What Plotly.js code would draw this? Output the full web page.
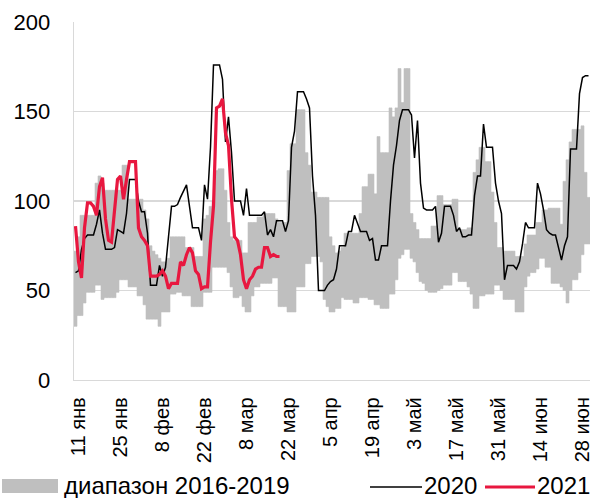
<!DOCTYPE html>
<html>
<head>
<meta charset="utf-8">
<script src="https://cdn.plot.ly/plotly-3.0.1.min.js"></script>
<style>html,body{margin:0;padding:0;background:#fff;}#chart{width:599px;height:498px;}</style>
</head>
<body>
<div id="chart"></div>
<script>
// Daily data starting 10 Jan (index 0) through 30 Jun (index 171)
const startYear = 2021, startMonth = 0, startDay = 10;

const rangeMin = [30,36,36,43,49,49,49,53,53,45,46,46,46,46,49,56,56,56,52,52,52,47,47,42,34,34,34,34,30,38,38,38,48,48,49,49,47,47,47,41,41,41,41,49,49,49,63,63,63,63,63,60,52,46,46,47,41,38,38,47,52,52,54,54,54,54,57,57,41,41,41,38,38,38,52,52,52,65,65,69,69,69,66,45,41,38,38,40,40,46,45,45,45,43,43,46,46,46,45,45,42,42,40,40,40,48,48,56,68,70,73,73,68,66,60,55,54,50,49,49,49,50,51,53,53,53,60,60,55,55,55,52,48,40,40,47,47,48,48,48,53,53,50,45,45,45,45,38,38,38,52,58,60,60,62,68,68,63,63,54,54,54,52,50,43,50,56,56,60,70,76,76];

const rangeMax = [72,80,92,92,92,92,92,110,114,110,106,106,106,106,106,106,120,120,101,101,101,101,101,95,90,75,72,70,68,66,66,68,80,80,80,80,80,74,74,74,69,69,69,90,92,97,100,117,118,118,106,88,80,78,78,78,71,71,88,88,88,91,91,93,93,93,93,90,88,88,88,117,132,132,151,151,151,127,120,105,105,102,102,102,102,80,75,71,72,74,82,82,82,82,82,93,108,108,115,115,104,136,127,127,127,152,147,152,174,155,174,174,93,88,84,79,79,79,79,86,86,103,103,98,98,98,101,101,84,84,84,85,85,116,123,130,130,122,122,105,88,74,74,72,72,72,72,69,69,69,76,81,81,81,88,88,95,95,96,96,96,96,87,111,123,133,140,140,140,142,116,102];

const values2020 = [60,61,73,79,81,81,81,87,95,82,73,73,73,74,84,83,82,93,112,112,112,100,94,94,82,53,53,53,64,58,63,80,97,97,98,102,106,109,97,85,85,85,78,109,101,130,176,176,176,168,133,147,127,100,100,100,92,107,92,92,92,92,92,94,81,84,80,89,89,89,83,89,130,139,161,161,161,157,152,114,92,50,50,50,53,55,56,62,75,75,75,83,83,92,88,83,83,83,78,79,67,67,75,75,75,100,120,131,145,151,151,151,148,124,145,110,96,95,95,95,97,77,82,97,97,97,92,83,85,80,80,81,81,103,114,114,143,130,130,130,110,100,93,56,64,64,64,62,66,76,88,85,85,85,110,104,95,84,82,81,81,74,67,75,80,129,129,129,160,169,170,170];

const values2021 = [86,66,57,85,99,99,97,92,108,113,90,78,77,95,112,114,101,112,122,122,122,85,80,78,75,58,58,58,59,61,58,51,54,54,54,66,64,70,74,71,61,59,51,52,52,77,97,152,153,157,138,131,101,80,78,70,56,51,56,58,62,63,63,74,74,69,70,69,69];

const tickDates = ['2021-01-11','2021-01-25','2021-02-08','2021-02-22','2021-03-08','2021-03-22','2021-04-05','2021-04-19','2021-05-03','2021-05-17','2021-05-31','2021-06-14','2021-06-28'];
const tickLabels = ['11 янв','25 янв','8 фев','22 фев','8 мар','22 мар','5 апр','19 апр','3 май','17 май','31 май','14 июн','28 июн'];
const yTicks = [0,50,100,150,200];

const legendRange = 'диапазон 2016-2019';
const legend2020 = '2020';
const legend2021 = '2021';

function dayStr(i){
  const d = new Date(Date.UTC(startYear, startMonth, startDay + i));
  return d.toISOString().slice(0,10);
}
const datesAll = rangeMin.map((_, i) => dayStr(i));
const dates2021 = values2021.map((_, i) => dayStr(i));

const GRAY = '#BFBFBF';
const RED = '#E8173F';
const FONT = 'Liberation Sans, Arial, sans-serif';

const traces = [
  {
    type: 'bar',
    x: datesAll,
    base: rangeMin,
    y: rangeMax.map((v, i) => v - rangeMin[i]),
    marker: {color: GRAY, line: {color: GRAY, width: 0.6}},
    hoverinfo: 'skip',
    showlegend: false
  },
  {
    type: 'scatter', mode: 'lines',
    x: datesAll, y: values2020,
    line: {color: '#000000', width: 1.5},
    showlegend: false
  },
  {
    type: 'scatter', mode: 'lines',
    x: dates2021, y: values2021,
    line: {color: RED, width: 3.2},
    showlegend: false
  }
];

// paper coordinate helpers for the legend (plot area: x 74..590, y 22..380)
const L = 74, R = 590, T = 22, B = 380;
const px = v => (v - L) / (R - L);
const py = v => (B - v) / (B - T);
const legY = 485;

const layout = {
  width: 599, height: 498,
  margin: {l: L, r: 599 - R, t: T, b: 498 - B},
  paper_bgcolor: '#fff', plot_bgcolor: '#fff',
  bargap: 0,
  showlegend: false,
  font: {family: FONT, color: '#000', size: 20},
  xaxis: {
    type: 'date',
    range: ['2021-01-09 12:00', '2021-06-30 12:00'],
    tickmode: 'array', tickvals: tickDates, ticktext: tickLabels,
    tickangle: -90,
    ticks: 'outside', ticklen: 8, tickcolor: 'rgba(0,0,0,0)',
    tickfont: {family: FONT, size: 20, color: '#000'},
    showgrid: false,
    showline: true, linecolor: '#D9D9D9', linewidth: 1.3,
    zeroline: false
  },
  yaxis: {
    range: [0, 200],
    tickmode: 'array', tickvals: yTicks,
    ticks: 'outside', ticklen: 18, tickcolor: 'rgba(0,0,0,0)',
    tickfont: {family: FONT, size: 22, color: '#000'},
    showgrid: true, gridcolor: '#D9D9D9', gridwidth: 1.3,
    showline: true, linecolor: '#D9D9D9', linewidth: 1.3,
    zeroline: false
  },
  shapes: [
    {type: 'rect', xref: 'paper', yref: 'paper', x0: px(2), x1: px(58), y0: py(legY + 8), y1: py(legY - 6), fillcolor: GRAY, line: {width: 0}},
    {type: 'line', xref: 'paper', yref: 'paper', x0: px(370), x1: px(422), y0: py(legY + 2), y1: py(legY + 2), line: {color: '#000', width: 1.5}},
    {type: 'line', xref: 'paper', yref: 'paper', x0: px(485), x1: px(535), y0: py(legY + 2), y1: py(legY + 2), line: {color: RED, width: 3.2}}
  ],
  annotations: [
    {xref: 'paper', yref: 'paper', x: px(63), y: py(legY), xanchor: 'left', yanchor: 'middle', text: legendRange, showarrow: false, borderpad: 0, font: {family: FONT, size: 24, color: '#000'}},
    {xref: 'paper', yref: 'paper', x: px(423), y: py(legY), xanchor: 'left', yanchor: 'middle', text: legend2020, showarrow: false, borderpad: 0, font: {family: FONT, size: 24, color: '#000'}},
    {xref: 'paper', yref: 'paper', x: px(536), y: py(legY), xanchor: 'left', yanchor: 'middle', text: legend2021, showarrow: false, borderpad: 0, font: {family: FONT, size: 24, color: '#000'}}
  ]
};

Plotly.newPlot('chart', traces, layout, {displayModeBar: false, staticPlot: true});
</script>
</body>
</html>
